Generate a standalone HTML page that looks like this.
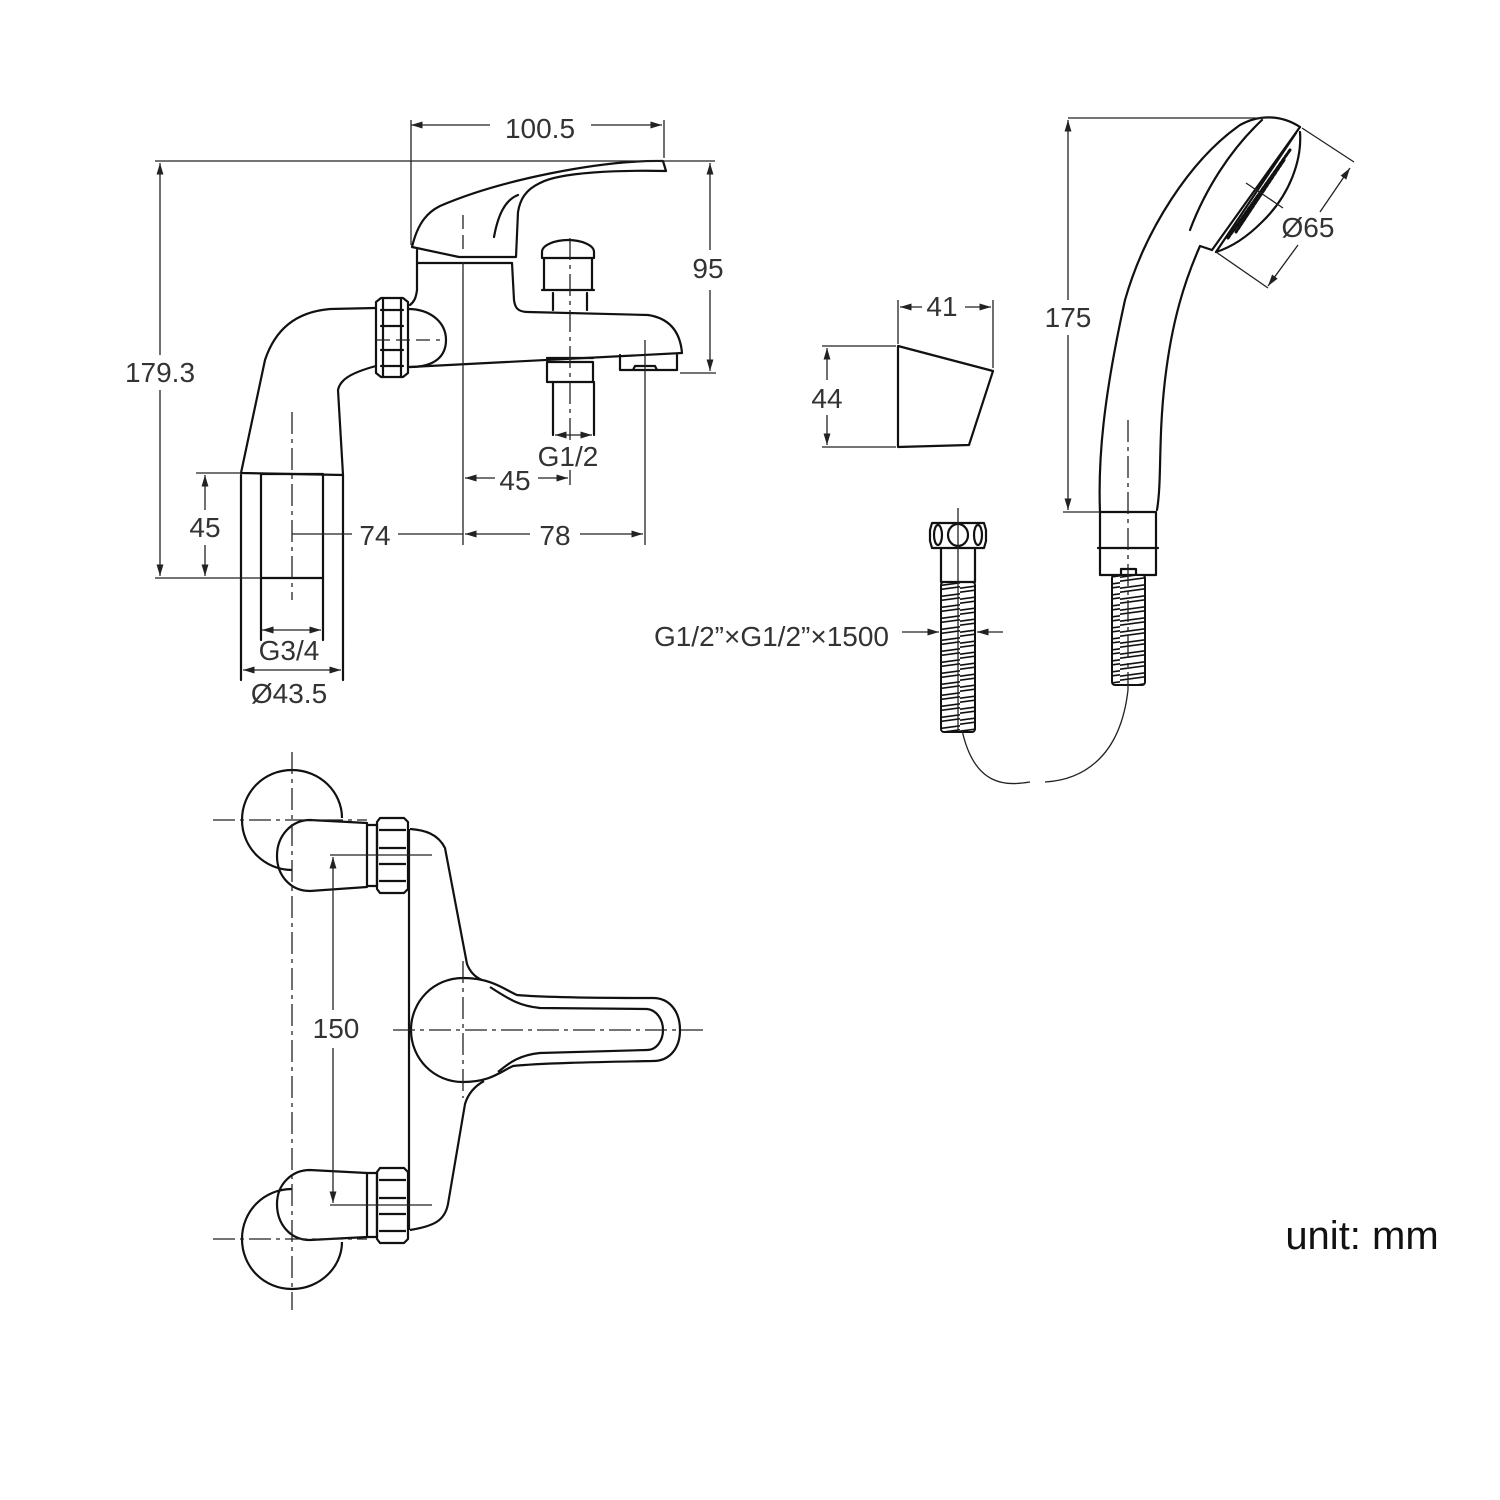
<!DOCTYPE html>
<html><head><meta charset="utf-8"><style>
html,body{margin:0;padding:0;background:#fff;}
svg{display:block}
text{font-family:"Liberation Sans",sans-serif;fill:#333;font-size:28px;}
</style></head><body>
<svg width="1500" height="1500" viewBox="0 0 1500 1500" xmlns="http://www.w3.org/2000/svg">
<defs>
<marker id="a" viewBox="0 0 10 10" refX="10" refY="5" markerWidth="9" markerHeight="9" orient="auto-start-reverse"><path d="M0,2 L10,5 L0,8 z" fill="#222"/></marker>
<pattern id="coil" width="40" height="11" patternUnits="userSpaceOnUse">
<rect width="40" height="11" fill="#fff"/>
<path d="M-2,9.5 L42,3.5 M-2,5.5 L42,-0.5 M-2,16.5 L42,10.5" stroke="#111" stroke-width="1.6" fill="none"/>
</pattern>
</defs>
<g fill="none" stroke="#111" stroke-width="2.2" stroke-linejoin="round" stroke-linecap="round">
<path d="M412,247 C418,222 428,212 440,206 C500,180 600,160 663,161 L666,171 C620,170 560,172 540,183 C525,190 520,200 518,212 L516,257 L459,257 Z"/>
<path d="M494,237 C498,215 505,200 518,195"/>
<path d="M418,263 L512,263"/>
<path d="M417,250 L417,290 C416,298 414,302 410,305"/>
<path d="M512,263 L514,300 C515,308 518,312 528,312 L648,315 C668,318 680,330 682,353 L410,367"/>
<path d="M376,302 L381,298 L403,298 L408,302 L408,373 L403,377 L381,377 L376,373 Z"/>
<path d="M381,310 L403,310 M381,326 L403,326 M381,350 L403,350 M381,366 L403,366 M383,298 L383,377 M401,298 L401,377"/>
<path d="M408,309 C430,309 446,322 446,340 C446,356 435,367 410,367"/>
<path d="M376,308 L330,309 C295,312 275,330 265,360 L241,473 L343,475 L338,390 C340,380 350,373 376,366"/>
<rect x="261" y="474" width="62" height="104"/>
<path d="M241,475 L241,680 M343,475 L343,680 M261,578 L261,640 M323,578 L323,640"/>
<path d="M542,252 C542,245 555,240 568,240 C581,240 594,245 594,252 L594,258 L542,258 Z M544,258 L544,290 L592,290 L592,258 M542,290 L594,290 M553,293 L553,310 M587,293 L587,310"/>
<path d="M547,362 L593,362 L593,382 L547,382 Z M547,358 L593,358"/>
<path d="M553,382 L553,435 M594,382 L594,435"/>
<path d="M620,355 L620,370 L677,370 L677,355 M635,366 L655,366 L657,370 L633,370 Z"/>
</g>
<g fill="none" stroke="#222" stroke-width="1.3">
<path d="M411,120 L411,245 M664,120 L664,158"/>
<path d="M591,125 L662,125" marker-end="url(#a)"/>
<path d="M411,125 L490,125" marker-start="url(#a)"/>
<path d="M155,161 L715,161 M680,373 L716,373"/>
<path d="M160,163 L160,355" marker-start="url(#a)"/>
<path d="M160,390 L160,576" marker-end="url(#a)"/>
<path d="M155,578 L261,578 M196,473 L241,473"/>
<path d="M205,475 L205,510" marker-start="url(#a)"/>
<path d="M205,545 L205,576" marker-end="url(#a)"/>
<path d="M710,163 L710,250" marker-start="url(#a)"/>
<path d="M710,290 L710,371" marker-end="url(#a)"/>
<path d="M463,262 L463,545"/>
<path d="M463,215 L463,255" stroke-dasharray="14,6"/>
<path d="M645,340 L645,545"/>
<path d="M292,412 L292,600 M570,238 L570,440" stroke-dasharray="22,5,4,5"/>
<path d="M570,470 L570,485"/>
<path d="M292,534 L352,534 M398,534 L463,534"/>
<path d="M465,534 L530,534" marker-start="url(#a)"/>
<path d="M580,534 L643,534" marker-end="url(#a)"/>
<path d="M465,478 L495,478" marker-start="url(#a)"/>
<path d="M538,478 L568,478" marker-end="url(#a)"/>
<path d="M555,435 L592,435" marker-start="url(#a)" marker-end="url(#a)"/>
<path d="M262,630 L321,630" marker-start="url(#a)" marker-end="url(#a)"/>
<path d="M243,670 L341,670" marker-start="url(#a)" marker-end="url(#a)"/>
<path d="M376,340 L440,340" stroke-dasharray="14,6"/>
</g>
<text x="540" y="138" text-anchor="middle">100.5</text>
<text x="160" y="382" text-anchor="middle">179.3</text>
<text x="708" y="278" text-anchor="middle">95</text>
<text x="205" y="537" text-anchor="middle">45</text>
<text x="375" y="545" text-anchor="middle">74</text>
<text x="555" y="545" text-anchor="middle">78</text>
<text x="515" y="490" text-anchor="middle">45</text>
<text x="568" y="466" text-anchor="middle">G1/2</text>
<text x="289" y="660" text-anchor="middle">G3/4</text>
<text x="289" y="703" text-anchor="middle">Ø43.5</text>

<g fill="none" stroke="#111" stroke-width="2.2" stroke-linejoin="round">
<path d="M292,870 C265,870 242,848 242,820 C242,792 264,770 292,770 C320,770 342,792 342,818"/>
<path d="M310,820 L367,823 L367,887 L310,891 C290,891 277,875 277,856 C277,835 292,820 310,820 Z"/>
<path d="M292,1189 C264,1189 242,1211 242,1239 C242,1267 264,1289 292,1289 C320,1289 342,1267 342,1242"/>
<path d="M310,1170 L367,1173 L367,1237 L310,1240 C290,1240 277,1224 277,1204 C277,1184 292,1170 310,1170 Z"/>
<path d="M367,825 L377,825 L377,886 L367,886 M367,1173 L377,1173 L377,1237 L367,1237"/>
<path d="M380,818 L404,818 L408,822 L408,889 L404,893 L380,893 L377,889 L377,822 Z M379,830 L406,830 M379,848 L406,848 M379,864 L406,864 M379,881 L406,881"/>
<path d="M380,1168 L404,1168 L408,1172 L408,1239 L404,1243 L380,1243 L377,1239 L377,1172 Z M379,1180 L406,1180 M379,1198 L406,1198 M379,1214 L406,1214 M379,1231 L406,1231"/>
<path d="M409,829 L409,1230"/>
<path d="M410,829 C425,830 438,834 445,848 L467,964 C470,972 475,977 482,980"/>
<path d="M484,1081 C475,1086 468,1094 465,1104 L448,1204 C445,1220 435,1226 410,1230"/>
<path d="M463,978 C492,978 505,990 517,995 C540,997 600,998 653,998 C670,998 680,1012 680,1030 C680,1048 670,1061 653,1061 C600,1062 540,1063 513,1066 C500,1072 490,1082 463,1082 C434,1082 411,1059 411,1030 C411,1001 434,978 463,978 Z"/>
<path d="M490,987 C510,1000 520,1006 540,1008 L647,1009 C657,1010 663,1020 663,1030 C663,1040 657,1050 647,1050 L540,1053 C520,1055 510,1062 498,1072"/>
</g>
<g fill="none" stroke="#222" stroke-width="1.3">
<path d="M213,820 L367,820 M213,1239 L367,1239 M292,752 L292,1310 M393,1030 L705,1030 M463,961 L463,1098" stroke-dasharray="22,5,4,5"/>
<path d="M330,855 L432,855 M330,1205 L432,1205"/>
<path d="M333,857 L333,1010" marker-start="url(#a)"/>
<path d="M333,1048 L333,1203" marker-end="url(#a)"/>
</g>
<text x="336" y="1038" text-anchor="middle">150</text>

<g fill="none" stroke="#111" stroke-width="2.2" stroke-linejoin="round">
<path d="M898,346 L993,371 L969,445 L898,447 Z"/>
</g>
<g fill="none" stroke="#222" stroke-width="1.3">
<path d="M898,300 L898,344 M993,300 L993,368 M822,346 L896,346 M822,447 L896,447"/>
<path d="M900,307 L922,307" marker-start="url(#a)"/>
<path d="M965,307 L991,307" marker-end="url(#a)"/>
<path d="M827,348 L827,380" marker-start="url(#a)"/>
<path d="M827,415 L827,445" marker-end="url(#a)"/>
</g>
<text x="942" y="316" text-anchor="middle">41</text>
<text x="827" y="408" text-anchor="middle">44</text>

<g fill="none" stroke="#111" stroke-width="2.2" stroke-linejoin="round" stroke-linecap="round">
<path d="M1100,512 C1098,460 1103,400 1125,300 C1145,230 1190,160 1240,125 C1258,115 1280,114 1300,127"/>
<path d="M1157,510 C1162,480 1158,440 1165,380 C1172,320 1185,280 1200,246 L1212,250"/>
<path d="M1190,230 C1205,190 1230,150 1262,120"/>
<path d="M1300,127 L1212,250 M1296,133 L1216,252"/>
<path d="M1300,132 C1302,160 1290,195 1262,222 C1248,236 1232,247 1216,252"/>
<path d="M1290,150 L1228,238 M1284,160 L1236,232" stroke-width="3" stroke-dasharray="3,2"/>
<path d="M1100,512 L1156,512 L1156,575 L1100,575 Z M1098,548 L1158,548"/>
<path d="M1121,575 L1121,569 L1136,569 L1136,575"/>
</g>
<rect x="1112" y="575" width="33" height="110" fill="url(#coil)" stroke="#111" stroke-width="2" rx="3"/>
<rect x="941" y="582" width="34" height="150" fill="url(#coil)" stroke="#111" stroke-width="2" rx="3"/>
<g fill="none" stroke="#111" stroke-width="2.2" stroke-linejoin="round">
<path d="M932,523 L984,523 L986,530 L986,541 L984,548 L932,548 L930,541 L930,530 Z"/>
<ellipse cx="958" cy="535" rx="10" ry="11"/>
<ellipse cx="938" cy="535" rx="4" ry="10"/>
<ellipse cx="978" cy="535" rx="4" ry="10"/>
<path d="M941,548 L941,582 L975,582 L975,548"/>
</g>
<g fill="none" stroke="#222" stroke-width="1.3">
<path d="M1068,118 L1270,118 M1063,512 L1100,512"/>
<path d="M1068,120 L1068,300" marker-start="url(#a)"/>
<path d="M1068,335 L1068,510" marker-end="url(#a)"/>
<path d="M1128,420 L1128,690" stroke-dasharray="22,5,4,5"/>
<path d="M958,508 L958,730"/>
<path d="M962,730 C975,790 1010,785 1030,782"/>
<path d="M1045,782 C1080,780 1120,760 1128,690"/>
<path d="M1302,128 L1354,162 M1216,252 L1268,288"/>
<path d="M1350,168 L1320,212" marker-start="url(#a)"/>
<path d="M1298,245 L1268,286" marker-end="url(#a)"/>
<path d="M1246,183 L1283,208"/>
<path d="M902,632 L939,632" marker-end="url(#a)"/>
<path d="M1003,632 L977,632" marker-end="url(#a)"/>
</g>
<text x="1068" y="327" text-anchor="middle">175</text>
<text x="1308" y="237" text-anchor="middle">Ø65</text>
<text x="889" y="646" text-anchor="end">G1/2”×G1/2”×1500</text>
<text x="1362" y="1249" text-anchor="middle" style="font-size:40px;fill:#111">unit: mm</text>
</svg>
</body></html>
